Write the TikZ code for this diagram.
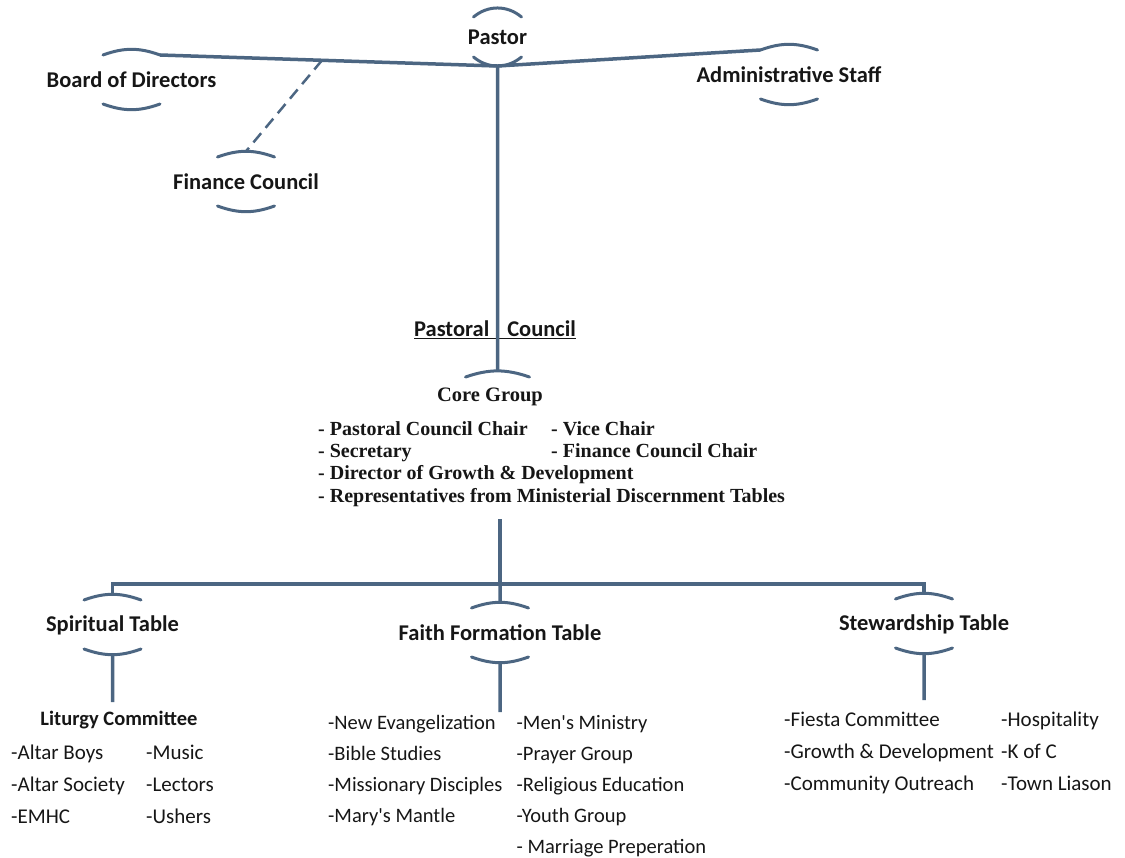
\documentclass[tikz,border=0pt]{standalone}
\usepackage{fontspec}
\setmainfont{Carlito}
\newfontfamily\corefont{Liberation Serif}
\usetikzlibrary{calc,positioning}
\definecolor{orgline}{RGB}{76,102,130}
\definecolor{orgtext}{RGB}{22,22,22}

\begin{document}
\begin{tikzpicture}[
  x=1pt, y=1pt,
  unit/.style={font=\fontsize{22.5}{27}\selectfont\bfseries, text=orgtext, inner sep=0pt},
  sub/.style={font=\fontsize{20.5}{24}\selectfont\bfseries, text=orgtext, inner sep=0pt},
  core/.style={font=\corefont\fontsize{20.5}{24}\selectfont\bfseries, text=orgtext, inner sep=0pt},
  items/.style={font=\fontsize{21}{32.4}\selectfont, text=orgtext, align=left, anchor=base west, inner sep=0pt},
  coreitems/.style={font=\corefont\fontsize{20}{22.4}\selectfont\bfseries, text=orgtext, align=left, anchor=base west, inner sep=0pt},
  conn/.style={draw=orgline, line width=3.5pt},
  dashline/.style={draw=orgline, line width=2.5pt, dash pattern=on 12pt off 7pt},
  arcline/.style={draw=orgline, line width=3pt, line cap=round}]

\useasboundingbox (0,0) rectangle (1125,-858);

% leadership
\node[unit] (pastor) at (497.5,-37) {Pastor};
\node[unit] (board) at (131.5,-80) {Board of Directors};
\node[unit] (finance) at (246,-182) {Finance Council};
\node[unit] (admin) at (789,-75) {Administrative Staff};

% council (list nodes sit on the baseline of their last line)
\node[unit] (pastoral) at (495,-330) {\underline{Pastoral\hspace{18pt}Council}};
\node[core] (coregrp) at (490,-397) {Core Group};
\node[coreitems] (coreL) at (318,-502.2) {- Pastoral Council Chair\\- Secretary\\- Director of Growth \& Development\\- Representatives from Ministerial Discernment Tables};
\node[coreitems] (coreR) at (551,-457.4) {- Vice Chair\\- Finance Council Chair};

% tables
\node[unit] (spirit) at (112.5,-625) {Spiritual Table};
\node[unit] (faith) at (500,-633) {Faith Formation Table};
\node[unit] (steward) at (924,-624) {Stewardship Table};

\node[sub] (liturgy) at (119,-720) {Liturgy Committee};
\node[items] (spiritL) at (11,-823.8) {-Altar Boys\\-Altar Society\\-EMHC};
\node[items] (spiritR) at (146,-823.8) {-Music\\-Lectors\\-Ushers};
\node[items, font=\fontsize{20.5}{31}\selectfont] (faithL) at (328,-822) {-New Evangelization\\-Bible Studies\\-Missionary Disciples\\-Mary\textquotesingle s Mantle};
\node[items, font=\fontsize{20.5}{31}\selectfont] (faithR) at (516.5,-853) {-Men\textquotesingle s Ministry\\-Prayer Group\\-Religious Education\\-Youth Group\\- Marriage Preperation};
\node[items] (stewardL) at (784,-790.8) {-Fiesta Committee\\-Growth \& Development\\-Community Outreach};
\node[items] (stewardR) at (1001,-790.8) {-Hospitality\\-K of C\\-Town Liason};

% arcs above and below each label
\draw[arcline] ($(pastor)+(-24,20)$) to[bend left=40] ($(pastor)+(24,20)$);
\draw[arcline] ($(pastor)+(-24,-20)$) to[bend right=40] coordinate[pos=.5] (pastor-b) ($(pastor)+(24,-20)$);
\foreach \n in {board,finance,admin,spirit,faith,steward}{
  \draw[arcline] ($(\n)+(-28.5,25)$) coordinate (\n-tl) to[bend left=20] coordinate[pos=.5] (\n-t) ($(\n)+(28.5,25)$) coordinate (\n-tr);
  \draw[arcline] ($(\n)+(-28.5,-24)$) to[bend right=20] coordinate[pos=.5] (\n-b) ($(\n)+(28.5,-24)$);
}

\coordinate (coreTop) at (497.5,-371);
\draw[arcline] ($(coreTop)+(-32,-6)$) to[bend left=19] ($(coreTop)+(32,-6)$);

% connectors
\draw[conn] (pastor-b) -- (board-tr);
\draw[conn] (pastor-b) -- (admin-tl);
\draw[conn] (pastor-b) -- (coreTop);
\path (pastor-b) -- (board-tr) coordinate[pos=.52] (tap);
\draw[dashline] (tap) -- (finance-t);

\coordinate (coreBot) at (500,-519);
\coordinate (bar) at (500,-584);
\draw[conn] (coreBot) -- (bar);
\draw[conn] (spirit-t) |- (bar) -| (steward-t);
\draw[conn] (bar) -- (faith-t);

\coordinate (spiritEnd) at (112.5,-702);
\coordinate (faithEnd) at (500,-712);
\coordinate (stewardEnd) at (924,-700);
\draw[conn] (spirit-b) -- (spiritEnd);
\draw[conn] (faith-b) -- (faithEnd);
\draw[conn] (steward-b) -- (stewardEnd);

\end{tikzpicture}
\end{document}
